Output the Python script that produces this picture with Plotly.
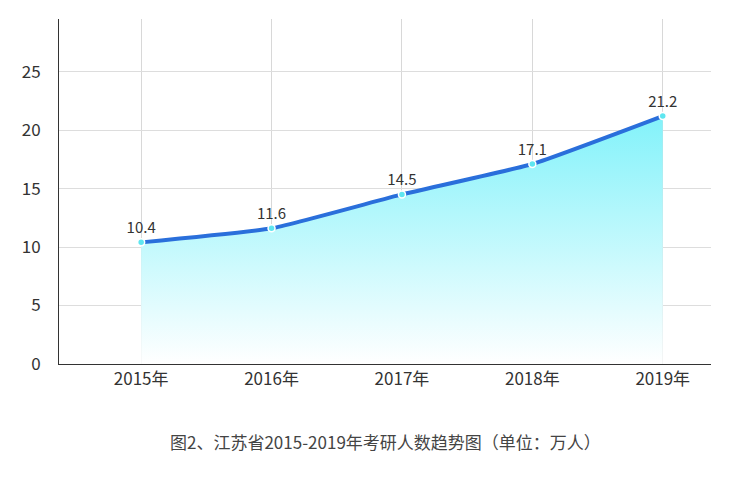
import plotly.graph_objects as go

years = ["2015年", "2016年", "2017年", "2018年", "2019年"]
applicants = [10.4, 11.6, 14.5, 17.1, 21.2]
y_ticks = [0, 5, 10, 15, 20, 25]
caption = "图2、江苏省2015-2019年考研人数趋势图（单位：万人）"

font = "Noto Sans CJK SC"

fig = go.Figure()
fig.add_trace(go.Scatter(
    x=years, y=applicants,
    mode="lines+markers+text",
    text=[str(v) for v in applicants],
    textposition="top center",
    textfont=dict(size=15, color="#333333", family=font),
    line=dict(color="#2a6fdb", width=4, shape="spline", smoothing=0.4),
    marker=dict(size=7, color="#5ee6f0", line=dict(color="white", width=1.5)),
    fill="tozeroy",
    fillgradient=dict(type="vertical",
                      colorscale=[[0, "rgba(255,255,255,1)"], [1, "rgba(130,242,250,1)"]]),
    showlegend=False,
))

fig.update_layout(
    width=731, height=481,
    margin=dict(l=51, r=28, t=11, b=125),
    plot_bgcolor="white", paper_bgcolor="white",
    font=dict(family=font, size=17, color="#333333"),
    annotations=[dict(text=caption, x=0.5, xref="paper", y=-0.225, yref="paper",
                      showarrow=False, yanchor="middle",
                      font=dict(size=17, color="#444444", family=font))],
)
fig.update_xaxes(range=[-0.63, 4.37], showgrid=True, gridcolor="#d8d8d8",
                 showline=True, linecolor="#333333", linewidth=1,
                 ticks="", tickfont=dict(size=17))
fig.update_yaxes(range=[0, 29.5], tickvals=y_ticks, showgrid=True, gridcolor="#dddddd",
                 showline=True, linecolor="#333333", linewidth=1, zeroline=False,
                 ticks="", ticklabelstandoff=14, tickfont=dict(size=17))

fig.write_html("out.html")
